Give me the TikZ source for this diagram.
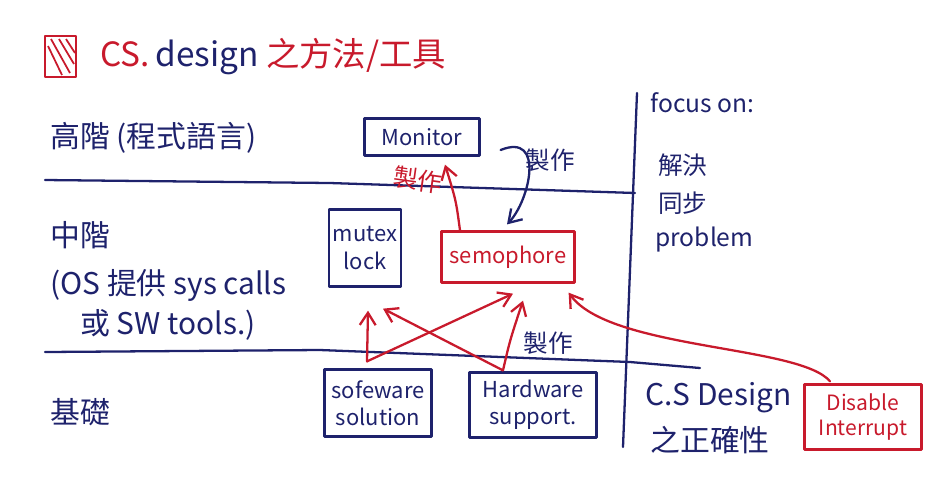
\documentclass[tikz,border=0pt]{standalone}
\usepackage{fontspec}
\setmainfont{Noto Sans CJK TC}
\usetikzlibrary{arrows.meta,calc}
\definecolor{ink}{RGB}{30,34,108}
\definecolor{redink}{RGB}{200,26,44}

\begin{document}
\begin{tikzpicture}[x=0.02cm,y=-0.02cm,
  every node/.style={inner sep=0pt},
  huge/.style={font=\fontsize{19}{23}\selectfont},
  big/.style={font=\fontsize{17}{21}\selectfont},
  mid/.style={font=\fontsize{14}{17}\selectfont},
  boxfont/.style={font=\fontsize{12.5}{15.5}\selectfont},
  small/.style={font=\fontsize{12}{14}\selectfont},
  bluetxt/.style={text=ink, anchor=west},
  stroke/.style={line width=1.3pt, line cap=round, line join=round},
  bluebox/.style={draw=ink, stroke, text=ink, align=center, boxfont},
  redbox/.style={draw=redink, stroke, text=redink, align=center, boxfont},
  redarrow/.style={draw=redink, stroke, -{Straight Barb[length=7pt,width=9pt]}},
  bluearrow/.style={draw=ink, stroke, -{Straight Barb[length=7pt,width=9pt]}}]

\useasboundingbox (0,0) rectangle (930,485);

% heading: hatched square and title
\draw[redink, stroke] (45,36) rectangle (76,77);
\draw[redink, line width=1pt] (48,46) -- (62,75) (51,39) -- (70,73) (59,39) -- (74,64) (66,39) -- (75,53);
\node[huge, anchor=west] (title) at (100,57)
  {\textcolor{redink}{CS.}\,\textcolor{ink}{design} \textcolor{redink}{之方法/工具}};

% level dividers
\draw[ink, stroke] (45,180) -- (330,183) -- (635,193);
\draw[ink, stroke] (45,352) -- (320,350) -- (630,362) -- (700,368);
\draw[ink, stroke] (637,93) -- (623,447);

% level names
\node[big, bluetxt] (high) at (50,138) {高階 (程式語言)};
\node[big, bluetxt] (midlv) at (50,235) {中階};
\node[big, bluetxt] (os) at (50,285) {(OS 提供 sys calls};
\node[big, bluetxt] (sw) at (80,325) {或 SW tools.)};
\node[big, bluetxt] (base) at (50,412) {基礎};

% right column notes
\node[mid, bluetxt] (focus) at (650,103) {focus on:};
\node[mid, bluetxt] (solve) at (658,165) {解決};
\node[mid, bluetxt] (sync) at (658,203) {同步};
\node[mid, bluetxt] (prob) at (655,240) {problem};
\node[big, bluetxt] (csd) at (645,398) {C.S Design};
\node[big, bluetxt] (corr) at (650,440) {之正確性};

% synchronization tools
\node[bluebox, minimum width=2.3cm, minimum height=0.74cm] (monitor) at (422,137) {Monitor};
\node[bluebox, minimum width=1.44cm, minimum height=1.54cm] (mutex) at (365,248) {mutex\\lock};
\node[redbox, minimum width=2.66cm, minimum height=1.02cm] (sem) at (508,257) {semophore};
\node[bluebox, minimum width=2.14cm, minimum height=1.34cm] (soft) at (378,403) {sofeware\\solution};
\node[bluebox, minimum width=2.54cm, minimum height=1.3cm] (hard) at (533,405) {Hardware\\support.};
\node[redbox, small, minimum width=2.34cm, minimum height=1.3cm] (dis) at (863,417) {Disable\\Interrupt};

% "built from" relations
\draw[redarrow] ($(sem.north)+(-48,0)$) .. controls ($(sem.north)+(-52,-30)$) .. ($(monitor.south)+(23,8)$);
\node[mid, text=redink, rotate=-8] (lblr) at (418,180) {製作};

\draw[bluearrow] ($(monitor.east)+(20,13)$) .. controls (545,132) and (530,200) .. ($(sem.north)+(-1,-6)$);
\node[mid, text=ink] (lblb) at (550,160) {製作};

\draw[redarrow] ($(soft.north)+(-11,-7)$) -- ($(mutex.south)+(3,23)$);
\draw[redarrow] ($(soft.north)+(-11,-7)$) -- ($(sem.south)+(5,10)$);
\draw[redarrow] ($(hard.north)+(-30,-1)$) -- ($(mutex.south)+(18,21)$);
\draw[redarrow] ($(hard.north)+(-30,-1)$) .. controls (510,340) .. ($(sem.south)+(15,17)$);
\node[mid, text=ink] (lblh) at (548,343) {製作};

\draw[redarrow] ($(dis.north)+(-33,-2)$) .. controls (800,345) and (610,350) .. ($(sem.south east)+(-7,9)$);

\end{tikzpicture}
\end{document}
